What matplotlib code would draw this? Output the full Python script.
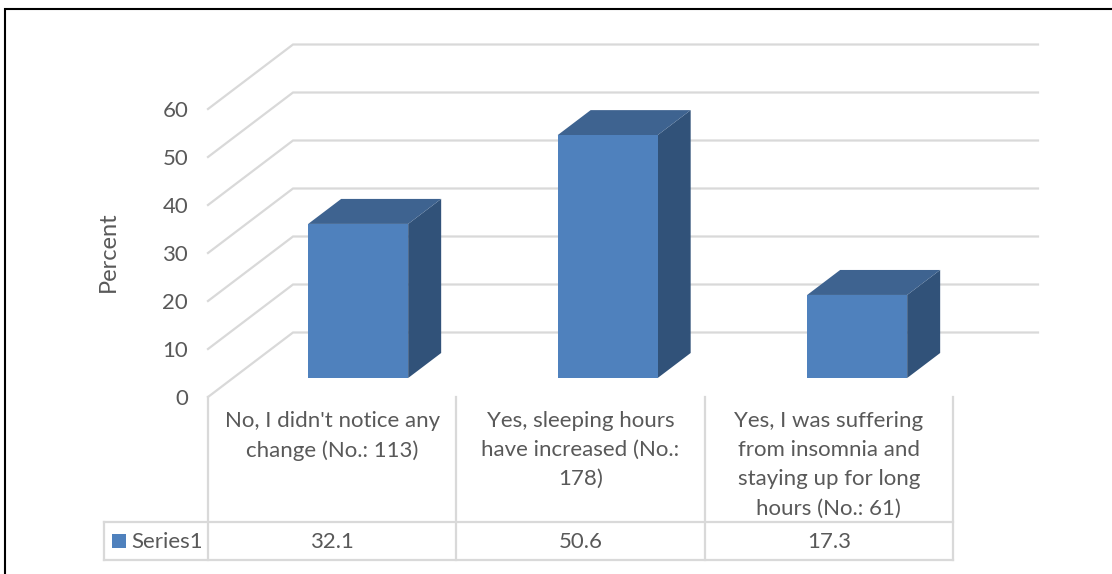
import matplotlib
matplotlib.use('Agg')
import matplotlib.pyplot as plt
from matplotlib.patches import Polygon, Rectangle

# Data
categories = ["No, I didn't notice any\nchange (No.: 113)",
              "Yes, sleeping hours\nhave increased (No.:\n178)",
              "Yes, I was suffering\nfrom insomnia and\nstaying up for long\nhours (No.: 61)"]
values = [32.1, 50.6, 17.3]
value_labels = ['32.1', '50.6', '17.3']
y_ticks = [0, 10, 20, 30, 40, 50, 60]
series_name = 'Series1'

W, H = 1112, 574
GRID = '#d9d9d9'
TEXT = '#595959'
FRONT = '#4f81bd'
TOP = '#3e6390'
SIDE = '#315279'

plt.rcParams['font.family'] = ['Lato', 'DejaVu Sans']

fig = plt.figure(figsize=(W / 100, H / 100), dpi=100)

# plot area spans the category cells, one unit per category
left, right = 208, 953
bottom, top = 397, 109
ax = fig.add_axes([left / W, 1 - bottom / H, (right - left) / W, (bottom - top) / H])
ax.set_xlim(0, 3)
ax.set_ylim(0, 60)
ax.axis('off')

ux = (right - left) / 3
uy = (bottom - top) / 60

# oblique depth of the floor, in data units
depth_x = 85 / ux
depth_y = 64.5 / uy
# bars sit part way into the floor
bar_off_x = 26 / ux
bar_off_y = 19 / uy
bar_w = 100 / ux
bar_step = 249.5 / ux
bar_dx = 33 / ux
bar_dy = 25 / uy

# gridlines: side wall then back wall
for t in y_ticks:
    ax.plot([0, depth_x, 3 + depth_x], [t, t + depth_y, t + depth_y],
            color=GRID, lw=1.6, clip_on=False, zorder=1, solid_joinstyle='miter')
    ax.text(-0.08, t - 0.5, str(t), ha='right', va='center', fontsize=16, color=TEXT)

# bars
for i, v in enumerate(values):
    x0 = 0.5 + i * bar_step - bar_w / 2 + bar_off_x
    x1 = x0 + bar_w
    y0 = bar_off_y
    y1 = y0 + v
    ax.add_patch(Polygon([(x1, y0), (x1 + bar_dx, y0 + bar_dy), (x1 + bar_dx, y1 + bar_dy), (x1, y1)],
                         closed=True, fc=SIDE, ec='none', clip_on=False, zorder=3))
    ax.add_patch(Polygon([(x0, y1), (x0 + bar_dx, y1 + bar_dy), (x1 + bar_dx, y1 + bar_dy), (x1, y1)],
                         closed=True, fc=TOP, ec='none', clip_on=False, zorder=3))
    ax.add_patch(Rectangle((x0, y0), bar_w, v, fc=FRONT, ec='none', clip_on=False, zorder=4))

# overlay in pixel coordinates for the data table and frame
ov = fig.add_axes([0, 0, 1, 1], facecolor='none')
ov.set_xlim(0, W)
ov.set_ylim(H, 0)
ov.axis('off')

row_top, row_bot = 522, 560
cells = [left + i * ux for i in range(4)]
for x in cells:
    ov.plot([x, x], [397, row_bot], color=GRID, lw=1.6, zorder=1)
ov.plot([104, 104], [row_top, row_bot], color=GRID, lw=1.6, zorder=1)
ov.plot([104, right], [row_top, row_top], color=GRID, lw=1.6, zorder=1)
ov.plot([104, right], [row_bot, row_bot], color=GRID, lw=1.6, zorder=1)

for i, (c, lab) in enumerate(zip(categories, value_labels)):
    cx = left + (i + 0.5) * ux
    ov.text(cx, 411, c, ha='center', va='top', fontsize=16, color=TEXT, linespacing=1.57)
    ov.text(cx, 542, lab, ha='center', va='center', fontsize=16, color=TEXT)

ov.add_patch(Rectangle((112, 534), 14, 14, fc=FRONT, ec='none'))
ov.text(131, 542, series_name, ha='left', va='center', fontsize=16, color=TEXT)

ov.text(108, 252, 'Percent', ha='center', va='center', rotation=90, fontsize=17, color=TEXT)

# chart frame: left and top edges only
ov.plot([5, 5, W], [H, 8.5, 8.5], color='black', lw=1.5, zorder=5, solid_joinstyle='miter')

fig.savefig('out.png', dpi=100)
